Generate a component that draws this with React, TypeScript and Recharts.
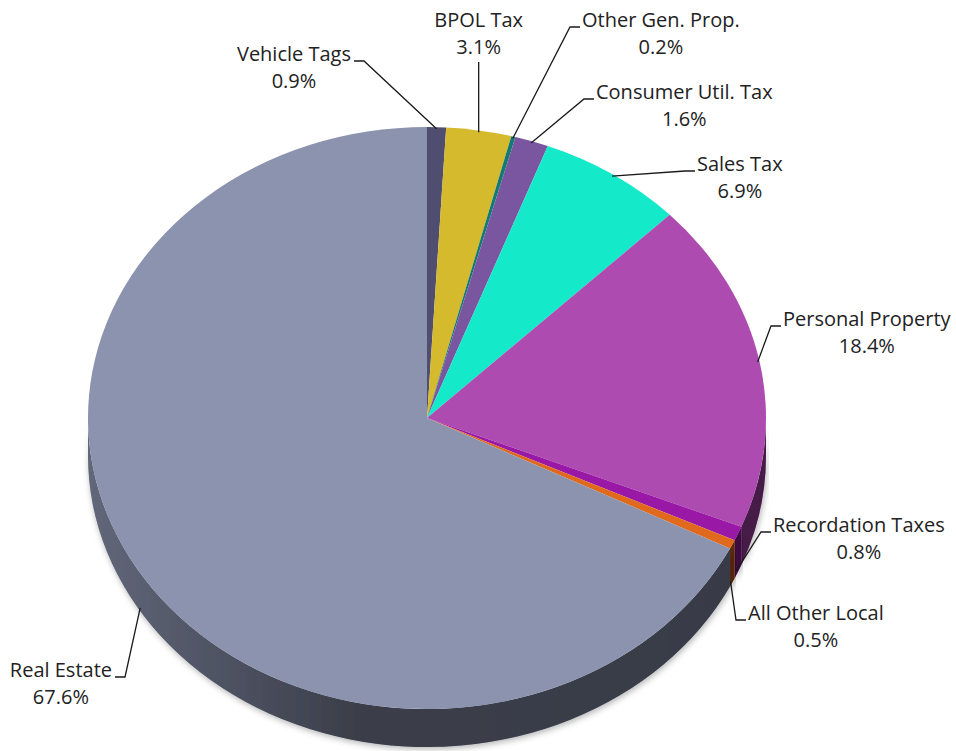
import { PieChart, Pie, Cell } from "recharts";

const CATEGORIES = [
  "Vehicle Tags",
  "BPOL Tax",
  "Other Gen. Prop.",
  "Consumer Util. Tax",
  "Sales Tax",
  "Personal Property",
  "Recordation Taxes",
  "All Other Local",
  "Real Estate",
];
const SHARES = [0.9, 3.1, 0.2, 1.6, 6.9, 18.4, 0.8, 0.5, 67.6];
const COLORS = [
  "#4f4d70",
  "#d6ba2e",
  "#137a72",
  "#7b56a0",
  "#14e9c9",
  "#ad4bb1",
  "#9a18a6",
  "#e0691e",
  "#8b93ae",
];

const chartData = CATEGORIES.map((name, i) => ({ name, value: SHARES[i] }));

const W = 956;
const H = 751;
const CX = 427;
const CY = 418;
const RADIUS = 339;
const TILT = 291 / 339;
const DEPTH = 38;
const FONT_SIZE = 20;
const LINE_GAP = 27;

// where each label's text sits (edge x, first baseline y)
const LABEL_POS: Record<string, { align: "start" | "end" | "top"; x: number; y: number }> = {
  "Vehicle Tags": { align: "end", x: 351, y: 61 },
  "BPOL Tax": { align: "top", x: 0, y: 27 },
  "Other Gen. Prop.": { align: "start", x: 582, y: 27 },
  "Consumer Util. Tax": { align: "start", x: 596, y: 99 },
  "Sales Tax": { align: "start", x: 697, y: 171 },
  "Personal Property": { align: "start", x: 783, y: 326 },
  "Recordation Taxes": { align: "start", x: 773, y: 532 },
  "All Other Local": { align: "start", x: 748, y: 620 },
  "Real Estate": { align: "end", x: 112, y: 677 },
};

let ctx: CanvasRenderingContext2D | null = null;
function textWidth(s: string) {
  if (!ctx) ctx = document.createElement("canvas").getContext("2d");
  if (!ctx) return s.length * FONT_SIZE * 0.5;
  ctx.font = `${FONT_SIZE}px "Open Sans"`;
  return ctx.measureText(s).width;
}

function ellipsePoint(cx: number, cy: number, r: number, deg: number, dy = 0) {
  const a = (deg * Math.PI) / 180;
  return [cx + r * Math.cos(a), cy - r * TILT * Math.sin(a) + dy];
}

function SliceShape(props: any) {
  const { cx, cy, outerRadius, startAngle, endAngle, fill, index } = props;
  const rx = outerRadius;
  const ry = outerRadius * TILT;
  const span = Math.abs(startAngle - endAngle);
  const [sx, sy] = ellipsePoint(cx, cy, rx, startAngle);
  const [ex, ey] = ellipsePoint(cx, cy, rx, endAngle);
  const top = `M${cx},${cy} L${sx},${sy} A${rx},${ry} 0 ${span > 180 ? 1 : 0} 1 ${ex},${ey} Z`;

  // front wall: part of the slice that lies in the lower half
  const hi = Math.min(startAngle, 0);
  const lo = Math.max(endAngle, -180);
  let side: string | null = null;
  if (hi > lo) {
    const [ax, ay] = ellipsePoint(cx, cy, rx, hi);
    const [bx, by] = ellipsePoint(cx, cy, rx, lo);
    side = `M${ax},${ay} A${rx},${ry} 0 0 1 ${bx},${by} L${bx},${by + DEPTH} A${rx},${ry} 0 0 0 ${ax},${ay + DEPTH} Z`;
  }
  const gid = `side-shade-${index}`;
  const fid = `side-shadow-${index}`;

  return (
    <g>
      <defs>
        <linearGradient id={gid} gradientUnits="userSpaceOnUse" x1={cx - rx} y1={0} x2={cx + rx} y2={0}>
          <stop offset="0" stopColor="#000" stopOpacity={0.3} />
          <stop offset="0.4" stopColor="#000" stopOpacity={0.58} />
          <stop offset="1" stopColor="#000" stopOpacity={0.6} />
        </linearGradient>
        <filter id={fid} x="-10%" y="-10%" width="120%" height="140%">
          <feDropShadow dx="1" dy="2" stdDeviation="3" floodColor="#000" floodOpacity="0.3" />
        </filter>
      </defs>
      {side && (
        <g filter={`url(#${fid})`}>
          <path d={side} fill={fill} />
          <path d={side} fill={`url(#${gid})`} />
        </g>
      )}
      <path d={top} fill={fill} />
    </g>
  );
}

function renderLabel(props: any) {
  const { cx, cy, midAngle, outerRadius, percent } = props;
  const name: string = props.payload?.name ?? props.name;
  const pos = LABEL_POS[name];
  if (!pos) return null;
  const below = Math.sin((midAngle * Math.PI) / 180) < 0;
  const [axp, ayp] = ellipsePoint(cx, cy, outerRadius - 2, midAngle, below ? DEPTH : 0);
  const pct = `${(percent * 100).toFixed(1)}%`;
  const w = textWidth(name);
  let center: number;
  let line: string;
  if (pos.align === "top") {
    center = axp;
    line = `M${axp},${ayp} L${axp},${pos.y + LINE_GAP + 8}`;
  } else if (pos.align === "start") {
    center = pos.x + w / 2;
    line = `M${axp},${ayp} L${pos.x - 12},${pos.y} L${pos.x - 2},${pos.y}`;
  } else {
    center = pos.x - w / 2;
    line = `M${axp},${ayp} L${pos.x + 13},${pos.y} L${pos.x + 3},${pos.y}`;
  }
  return (
    <g>
      <path d={line} stroke="#1a1a1a" strokeWidth={1.3} fill="none" />
      <text
        x={center}
        y={pos.y}
        textAnchor="middle"
        fontFamily='"Open Sans", sans-serif'
        fontSize={FONT_SIZE}
        fill="#222"
      >
        {name}
      </text>
      <text
        x={center}
        y={pos.y + LINE_GAP}
        textAnchor="middle"
        fontFamily='"Open Sans", sans-serif'
        fontSize={FONT_SIZE}
        fill="#222"
      >
        {pct}
      </text>
    </g>
  );
}

export default function App() {
  return (
    <div style={{ width: W, height: H, background: "#fff" }}>
      <style>{`body{margin:0;}`}</style>
      <PieChart width={W} height={H} margin={{ top: 0, right: 0, bottom: 0, left: 0 }}>
        <Pie
          data={chartData}
          dataKey="value"
          nameKey="name"
          cx={CX}
          cy={CY}
          outerRadius={RADIUS}
          startAngle={90}
          endAngle={-270}
          stroke="none"
          shape={SliceShape}
          activeShape={SliceShape}
          inactiveShape={SliceShape}
          label={renderLabel}
          labelLine={false}
          isAnimationActive={false}
        >
          {chartData.map((_, idx) => (
            <Cell key={idx} fill={COLORS[idx]} />
          ))}
        </Pie>
      </PieChart>
    </div>
  );
}
